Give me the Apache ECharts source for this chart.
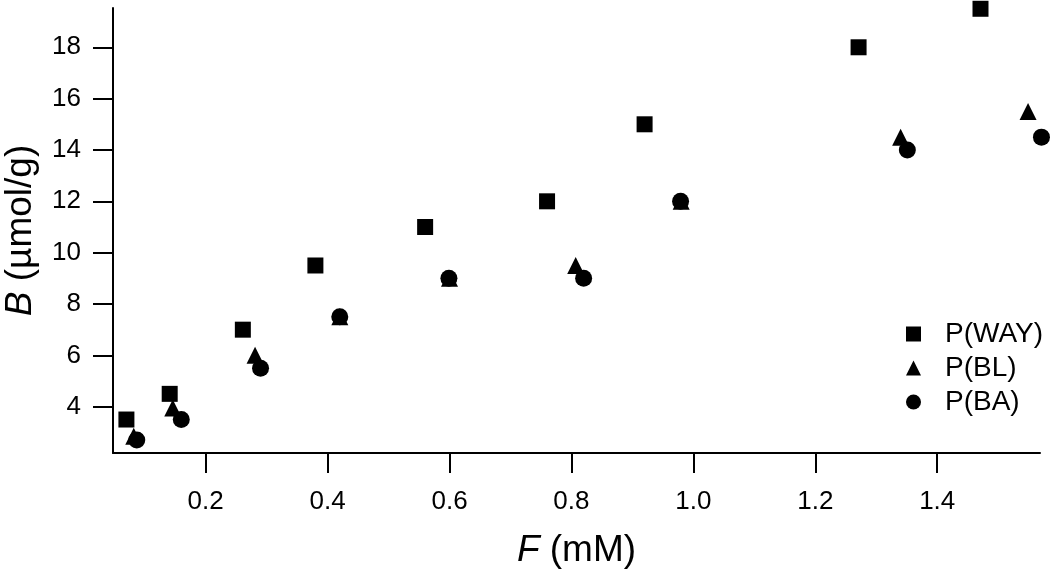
<!DOCTYPE html>
<html>
<head>
<meta charset="utf-8">
<script src="https://cdn.jsdelivr.net/npm/echarts@6/dist/echarts.min.js"></script>
<style>
html,body{margin:0;padding:0;background:#fff;}
#chart{width:1050px;height:570px;}
</style>
</head>
<body>
<div id="chart"></div>
<script>
// Data (F in mM, B in µmol/g)
const wayF = [0.070, 0.141, 0.261, 0.380, 0.560, 0.760, 0.920, 1.271, 1.471];
const wayB = [3.5, 4.5, 7.0, 9.5, 11.0, 12.0, 15.0, 18.0, 19.5];
const blF = [0.082, 0.146, 0.281, 0.420, 0.600, 0.807, 0.980, 1.340, 1.549];
const blB = [2.85, 3.95, 6.0, 7.5, 9.0, 9.5, 12.0, 14.5, 15.5];
const baF = [0.087, 0.160, 0.290, 0.420, 0.599, 0.820, 0.979, 1.351, 1.571];
const baB = [2.7, 3.5, 5.5, 7.5, 9.0, 9.0, 12.0, 14.0, 14.5];
const seriesNames = ['P(WAY)', 'P(BL)', 'P(BA)'];
const xTicks = [0.2, 0.4, 0.6, 0.8, 1.0, 1.2, 1.4];
const yTicks = [4, 6, 8, 10, 12, 14, 16, 18];

const FONT = '"Liberation Sans", Arial, sans-serif';
const pairs = (xs, ys) => xs.map((x, i) => [x, ys[i]]);

const chart = echarts.init(document.getElementById('chart'));
chart.setOption({
  animation: false,
  backgroundColor: '#fff',
  grid: { left: 113, right: 10, top: 8, bottom: 117, containLabel: false, outerBoundsMode: 'none' },
  legend: {
    orient: 'vertical',
    left: 901,
    top: 314,
    itemWidth: 15,
    itemHeight: 15,
    itemGap: 4,
    data: seriesNames,
    textStyle: { fontFamily: FONT, fontSize: 28, color: '#000', lineHeight: 30, padding: [0, 0, 0, 19] }
  },
  xAxis: {
    type: 'value',
    min: 0.048,
    max: 1.5686,
    name: '{i|F} (mM)',
    nameLocation: 'middle',
    nameGap: 79,
    nameTextStyle: {
      fontFamily: FONT, fontSize: 37, color: '#000',
      rich: { i: { fontFamily: FONT, fontSize: 37, fontStyle: 'italic', color: '#000' } }
    },
    axisLine: { show: true, onZero: false, lineStyle: { color: '#000', width: 2 } },
    axisTick: { show: true, inside: false, length: 20, customValues: xTicks, lineStyle: { color: '#000', width: 2 } },
    axisLabel: { customValues: xTicks, margin: 36, fontFamily: FONT, fontSize: 26, color: '#000',
      formatter: v => v.toFixed(1) },
    splitLine: { show: false }
  },
  yAxis: {
    type: 'value',
    min: 2.196,
    max: 19.53,
    name: '{i|B} (µmol/g)',
    nameLocation: 'middle',
    nameRotate: 90,
    nameGap: 74,
    nameTextStyle: {
      fontFamily: FONT, fontSize: 37, color: '#000',
      rich: { i: { fontFamily: FONT, fontSize: 37, fontStyle: 'italic', color: '#000' } }
    },
    axisLine: { show: true, onZero: false, lineStyle: { color: '#000', width: 2 } },
    axisTick: { show: true, inside: false, length: 20, customValues: yTicks, lineStyle: { color: '#000', width: 2 } },
    axisLabel: { customValues: yTicks, margin: 32, fontFamily: FONT, fontSize: 26, color: '#000',
      formatter: v => String(v) },
    splitLine: { show: false }
  },
  series: [
    { name: seriesNames[0], type: 'scatter', symbol: 'rect', symbolSize: 16, clip: false,
      itemStyle: { color: '#000', opacity: 1 }, data: pairs(wayF, wayB) },
    { name: seriesNames[1], type: 'scatter', symbol: 'triangle', symbolSize: 17, clip: false,
      itemStyle: { color: '#000', opacity: 1 }, data: pairs(blF, blB) },
    { name: seriesNames[2], type: 'scatter', symbol: 'circle', symbolSize: 17, clip: false,
      itemStyle: { color: '#000', opacity: 1 }, data: pairs(baF, baB) }
  ]
});
</script>
</body>
</html>
